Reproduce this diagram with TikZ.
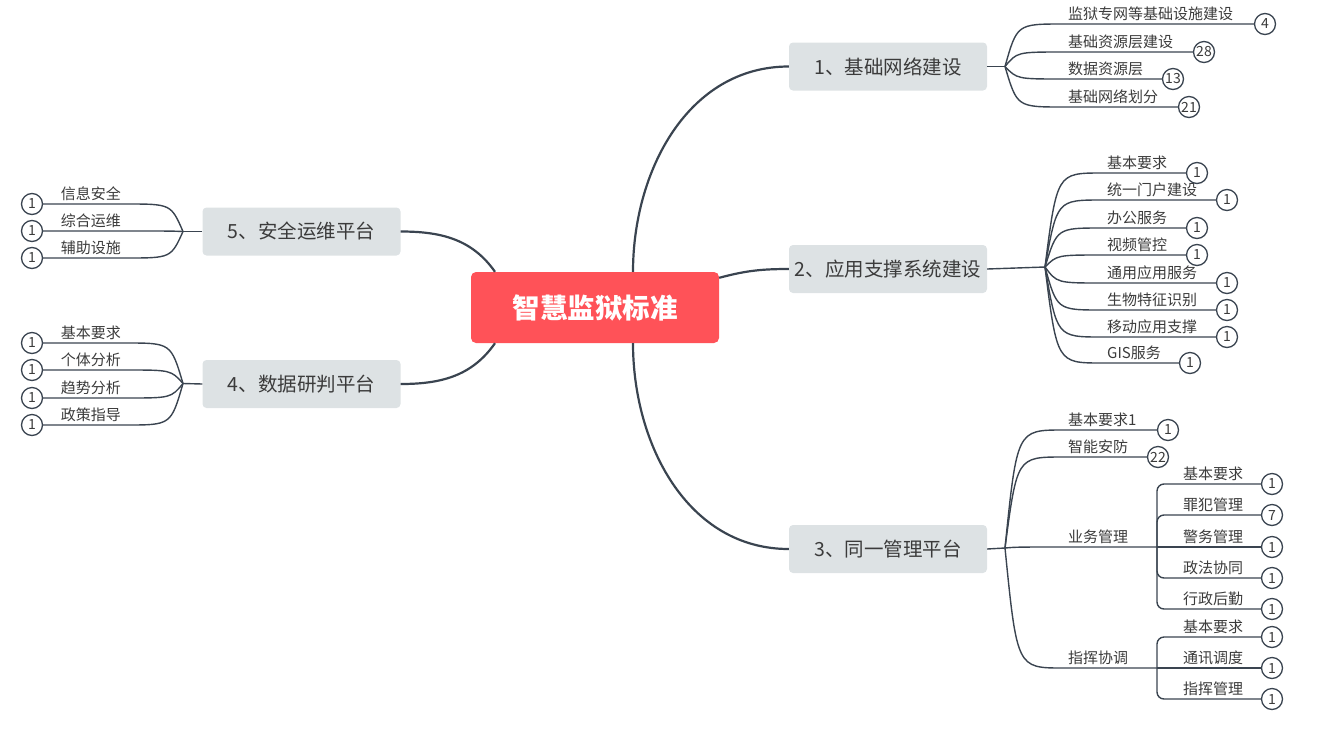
\documentclass[tikz,border=0pt]{standalone}
\usepackage{fontspec}
\setmainfont{Noto Sans CJK SC}
\usepackage{tikz}

\definecolor{linec}{HTML}{3A4450}
\definecolor{boxc}{HTML}{DDE2E4}
\definecolor{rootc}{HTML}{FF5258}
\definecolor{textc}{HTML}{3B3B3B}

\begin{document}
\begin{tikzpicture}[x=1pt,y=-1pt,
        root/.style={fill=rootc,rounded corners=5pt,minimum width=248pt,minimum height=71pt,text=white,font=\fontsize{27.5}{30}\selectfont\bfseries},
        topic/.style={fill=boxc,rounded corners=4pt,minimum width=198pt,minimum height=48pt,text=textc,font=\fontsize{19.5}{22}\selectfont},
        leaf/.style={inner xsep=5pt,inner ysep=3pt,text=textc,font=\fontsize{15}{16}\selectfont},
        cnt/.style={draw=linec,line width=1.3pt,circle,fill=white,minimum size=21pt,inner sep=0pt,text=textc,font=\fontsize{14}{15}\selectfont},
        main/.style={draw=linec,line width=2.2pt},
        twig/.style={draw=linec,line width=1.4pt}]
        \useasboundingbox (0,0) rectangle (1331,729);

        \node[root] (root) at (595,307.5) {智慧监狱标准};
        \node[topic] (b1) at (888,66.5) {1、基础网络建设};
        \node[topic] (b2) at (888,269) {2、应用支撑系统建设};
        \node[topic] (b3) at (888,549) {3、同一管理平台};
        \node[topic] (b4) at (301.5,384) {4、数据研判平台};
        \node[topic] (b5) at (301.5,231.5) {5、安全运维平台};

        \draw[main] ([xshift=38pt]root.north) to[out=90,in=180] (b1.west);
        \draw[main] ([yshift=-6pt]root.north east) to[out=15,in=180] (b2.west);
        \draw[main] ([xshift=38pt]root.south) to[out=-90,in=180] (b3.west);
        \draw[main] ([xshift=-100pt]root.south) to[out=-125,in=0] (b4.east);
        \draw[main] ([xshift=-100pt]root.north) to[out=125,in=0] (b5.east);

        \coordinate (f1) at (1005,66.5);
        \coordinate (f1c) at (1017,66.5);
        \draw[twig] (b1.east) -- (f1);
        \node[leaf,anchor=south west] (t11) at (1063,24) {监狱专网等基础设施建设};
        \node[leaf,anchor=south west] (t12) at (1063,52) {基础资源层建设};
        \node[leaf,anchor=south west] (t13) at (1063,79) {数据资源层};
        \node[leaf,anchor=south west] (t14) at (1063,107) {基础网络划分};
        \node[cnt] (n11) at (1265,24) {4};
        \node[cnt] (n12) at (1204,52) {28};
        \node[cnt] (n13) at (1173,79) {13};
        \node[cnt] (n14) at (1189,107) {21};
        \draw[twig] (f1) .. controls (f1c |- t11.south west) .. (t11.south west) -- (n11);
        \draw[twig] (f1) .. controls (f1c |- t12.south west) .. (t12.south west) -- (n12);
        \draw[twig] (f1) .. controls (f1c |- t13.south west) .. (t13.south west) -- (n13);
        \draw[twig] (f1) .. controls (f1c |- t14.south west) .. (t14.south west) -- (n14);

        \coordinate (f2) at (1045,267);
        \coordinate (f2c) at (1057,267);
        \draw[twig] (b2.east) -- (f2);
        \node[leaf,anchor=south west] (t21) at (1102,173) {基本要求};
        \node[leaf,anchor=south west] (t22) at (1102,200) {统一门户建设};
        \node[leaf,anchor=south west] (t23) at (1102,228) {办公服务};
        \node[leaf,anchor=south west] (t24) at (1102,255) {视频管控};
        \node[leaf,anchor=south west] (t25) at (1102,283) {通用应用服务};
        \node[leaf,anchor=south west] (t26) at (1102,310) {生物特征识别};
        \node[leaf,anchor=south west] (t27) at (1102,337) {移动应用支撑};
        \node[leaf,anchor=south west] (t28) at (1102,363) {GIS服务};
        \node[cnt] (n21) at (1197,173) {1};
        \node[cnt] (n22) at (1227,200) {1};
        \node[cnt] (n23) at (1197,228) {1};
        \node[cnt] (n24) at (1197,255) {1};
        \node[cnt] (n25) at (1227,283) {1};
        \node[cnt] (n26) at (1227,310) {1};
        \node[cnt] (n27) at (1227,337) {1};
        \node[cnt] (n28) at (1190,363) {1};
        \draw[twig] (f2) .. controls (f2c |- t21.south west) .. (t21.south west) -- (n21);
        \draw[twig] (f2) .. controls (f2c |- t22.south west) .. (t22.south west) -- (n22);
        \draw[twig] (f2) .. controls (f2c |- t23.south west) .. (t23.south west) -- (n23);
        \draw[twig] (f2) .. controls (f2c |- t24.south west) .. (t24.south west) -- (n24);
        \draw[twig] (f2) .. controls (f2c |- t25.south west) .. (t25.south west) -- (n25);
        \draw[twig] (f2) .. controls (f2c |- t26.south west) .. (t26.south west) -- (n26);
        \draw[twig] (f2) .. controls (f2c |- t27.south west) .. (t27.south west) -- (n27);
        \draw[twig] (f2) .. controls (f2c |- t28.south west) .. (t28.south west) -- (n28);

        \coordinate (f3) at (1005,548);
        \coordinate (f3c) at (1017,548);
        \coordinate (g1) at (1157,547);
        \coordinate (g2) at (1157,668);
        \draw[twig] (b3.east) -- (f3);
        \node[leaf,anchor=south west] (t31) at (1063,430) {基本要求1};
        \node[leaf,anchor=south west] (t32) at (1063,457) {智能安防};
        \node[leaf,anchor=south west] (t33) at (1063,547) {业务管理};
        \node[leaf,anchor=south west] (t34) at (1063,668) {指挥协调};
        \node[cnt] (n31) at (1168,430) {1};
        \node[cnt] (n32) at (1158,457) {22};
        \draw[twig] (f3) .. controls (f3c |- t31.south west) .. (t31.south west) -- (n31);
        \draw[twig] (f3) .. controls (f3c |- t32.south west) .. (t32.south west) -- (n32);
        \draw[twig] (f3) .. controls (f3c |- t33.south west) .. (t33.south west) -- (g1);
        \draw[twig] (f3) .. controls (f3c |- t34.south west) .. (t34.south west) -- (g2);

        \node[leaf,anchor=south west] (t331) at (1178,484) {基本要求};
        \node[leaf,anchor=south west] (t332) at (1178,515) {罪犯管理};
        \node[leaf,anchor=south west] (t333) at (1178,547) {警务管理};
        \node[leaf,anchor=south west] (t334) at (1178,578) {政法协同};
        \node[leaf,anchor=south west] (t335) at (1178,609) {行政后勤};
        \node[cnt] (n331) at (1272,484) {1};
        \node[cnt] (n332) at (1272,515) {7};
        \node[cnt] (n333) at (1272,547) {1};
        \node[cnt] (n334) at (1272,578) {1};
        \node[cnt] (n335) at (1272,609) {1};
        \draw[twig,rounded corners=7pt] (g1) |- (n331);
        \draw[twig,rounded corners=7pt] (g1) |- (n332);
        \draw[twig] (g1) -- (n333);
        \draw[twig,rounded corners=7pt] (g1) |- (n334);
        \draw[twig,rounded corners=7pt] (g1) |- (n335);

        \node[leaf,anchor=south west] (t341) at (1178,637) {基本要求};
        \node[leaf,anchor=south west] (t342) at (1178,668) {通讯调度};
        \node[leaf,anchor=south west] (t343) at (1178,699) {指挥管理};
        \node[cnt] (n341) at (1272,637) {1};
        \node[cnt] (n342) at (1272,668) {1};
        \node[cnt] (n343) at (1272,699) {1};
        \draw[twig,rounded corners=7pt] (g2) |- (n341);
        \draw[twig] (g2) -- (n342);
        \draw[twig,rounded corners=7pt] (g2) |- (n343);

        \coordinate (f4) at (183,383.5);
        \coordinate (f4c) at (171,383.5);
        \draw[twig] (b4.west) -- (f4);
        \node[leaf,anchor=south east] (t41) at (126,343) {基本要求};
        \node[leaf,anchor=south east] (t42) at (126,370) {个体分析};
        \node[leaf,anchor=south east] (t43) at (126,398) {趋势分析};
        \node[leaf,anchor=south east] (t44) at (126,425) {政策指导};
        \node[cnt] (n41) at (32,343) {1};
        \node[cnt] (n42) at (32,370) {1};
        \node[cnt] (n43) at (32,398) {1};
        \node[cnt] (n44) at (32,425) {1};
        \draw[twig] (f4) .. controls (f4c |- t41.south east) .. (t41.south east) -- (n41);
        \draw[twig] (f4) .. controls (f4c |- t42.south east) .. (t42.south east) -- (n42);
        \draw[twig] (f4) .. controls (f4c |- t43.south east) .. (t43.south east) -- (n43);
        \draw[twig] (f4) .. controls (f4c |- t44.south east) .. (t44.south east) -- (n44);

        \coordinate (f5) at (183,231.5);
        \coordinate (f5c) at (171,231.5);
        \draw[twig] (b5.west) -- (f5);
        \node[leaf,anchor=south east] (t51) at (126,204) {信息安全};
        \node[leaf,anchor=south east] (t52) at (126,231) {综合运维};
        \node[leaf,anchor=south east] (t53) at (126,258) {辅助设施};
        \node[cnt] (n51) at (32,204) {1};
        \node[cnt] (n52) at (32,231) {1};
        \node[cnt] (n53) at (32,258) {1};
        \draw[twig] (f5) .. controls (f5c |- t51.south east) .. (t51.south east) -- (n51);
        \draw[twig] (f5) .. controls (f5c |- t52.south east) .. (t52.south east) -- (n52);
        \draw[twig] (f5) .. controls (f5c |- t53.south east) .. (t53.south east) -- (n53);
    \end{tikzpicture}
\end{document}
